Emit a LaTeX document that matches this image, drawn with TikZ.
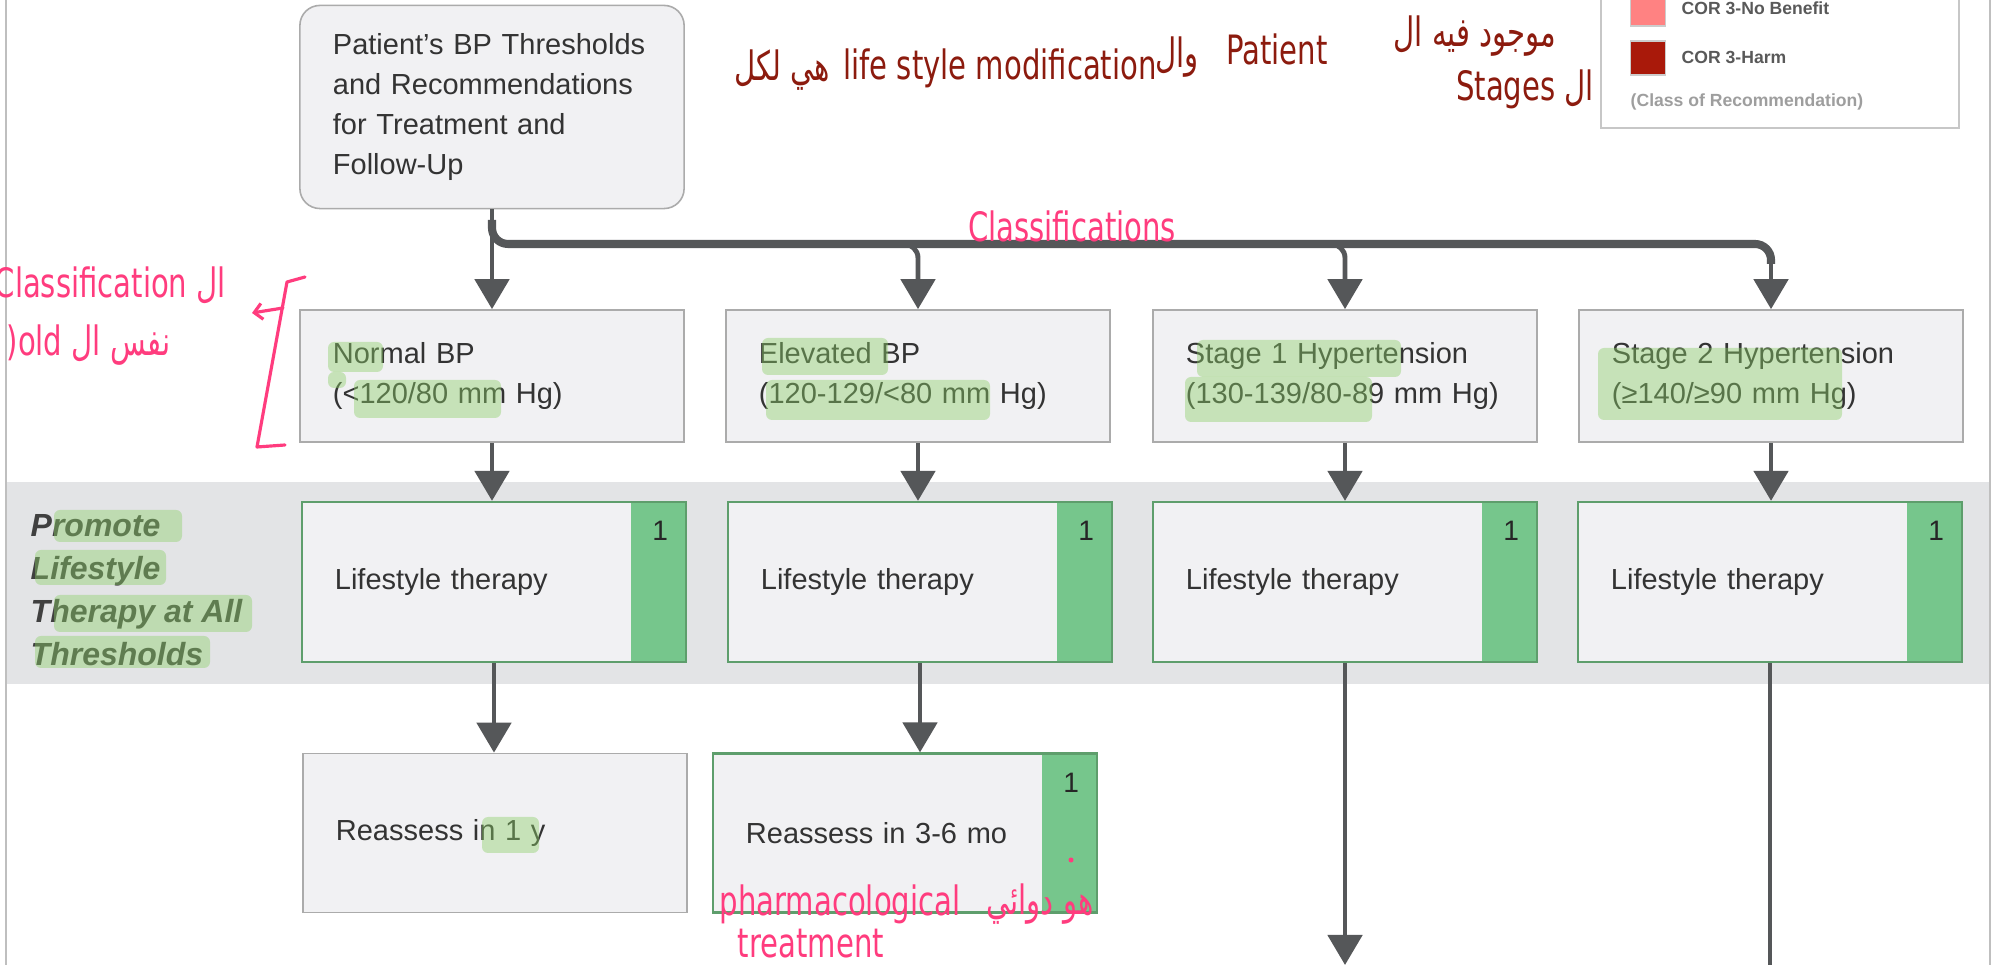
\documentclass[tikz,border=0pt]{standalone}
\usepackage{fontspec}
\setmainfont{Liberation Sans}
\newfontfamily\inkfont[FakeStretch=0.72]{DejaVu Sans}
\newfontfamily\inkarabic[Script=Arabic,FakeStretch=0.72]{DejaVu Sans}
\TeXXeTstate=1
\usetikzlibrary{arrows.meta,positioning}
\definecolor{boxfill}{HTML}{F1F1F3}
\definecolor{boxline}{HTML}{ABABAB}
\definecolor{bandgray}{HTML}{E3E4E6}
\definecolor{arrowgray}{HTML}{555759}
\definecolor{corgreen}{HTML}{76C68C}
\definecolor{greenline}{HTML}{5E9E6C}
\definecolor{hlgreen}{HTML}{8CCF68}
\definecolor{textgray}{HTML}{333333}
\definecolor{inkred}{HTML}{8C1B0E}
\definecolor{inkpink}{HTML}{FF3C7E}
\definecolor{cornobenefit}{HTML}{FF8282}
\definecolor{corharm}{HTML}{A9190A}
\colorlet{frameline}{black!25}

\begin{document}
\begin{tikzpicture}[x=0.01cm,y=-0.01cm,
        mainfont/.style={font=\fontsize{8.25}{11.4}\selectfont, text=textgray},
        stagebox/.style={mainfont, draw=boxline, line width=0.45pt, fill=boxfill,
            minimum width=3.84cm, minimum height=1.32cm, inner xsep=0.33cm,
            text width=3.18cm, align=left},
        topbox/.style={stagebox, rounded corners=0.2cm, minimum height=2.03cm},
        lsbox/.style={stagebox, draw=greenline, line width=0.6pt, minimum height=1.6cm,
            path picture={\fill[corgreen] ([xshift=-0.55cm]path picture bounding box.north east)
                rectangle (path picture bounding box.south east);}},
        cornum/.style={font=\fontsize{8}{9}\selectfont, text=black!85, inner sep=0pt},
        conn/.style={draw=arrowgray, line width=1.4pt,
            -{Triangle[width=0.34cm,length=0.3cm]}},
        line/.style={draw=arrowgray, line width=1.4pt},
        bus/.style={draw=arrowgray, line width=2.3pt},
        sidelabel/.style={font=\fontsize{9.1}{12.2}\selectfont\bfseries\itshape,
            text=black!75, align=left, inner sep=0pt},
        swatch/.style={draw=black!20, minimum width=0.35cm, minimum height=0.34cm, inner sep=0pt},
        legtext/.style={font=\fontsize{5}{6}\selectfont\bfseries, text=black!65, inner sep=0pt},
        legnote/.style={legtext, text=black!38},
        hl/.style={fill=hlgreen, opacity=0.42, rounded corners=0.06cm},
        inkdark/.style={font=\inkfont\fontsize{11.5}{13}\selectfont, text=inkred, inner sep=0pt},
        inkbright/.style={inkdark, text=inkpink},
        inkline/.style={draw=inkpink, line width=0.9pt, line cap=round, line join=round}]
        \useasboundingbox (0,0) rectangle (1998,965);
        \fill[white] (0,0) rectangle (1998,965);
        \draw[frameline, line width=0.8pt] (6,0) -- (6,965);
        \draw[frameline, line width=0.8pt] (1990,0) -- (1990,965);
        \fill[bandgray] (7,482) rectangle (1989,684);

        \node[draw=black!22, fill=white, minimum width=3.58cm, minimum height=1.68cm] (legend) at (1780,44) {};
        \node[swatch, fill=cornobenefit] (sw1) at (1648,9) {};
        \node[swatch, fill=corharm] (sw2) at (1648,58) {};
        \node[legtext, anchor=west] at (1681,8) {COR 3-No Benefit};
        \node[legtext, anchor=west] at (1681,57) {COR 3-Harm};
        \node[legnote, anchor=west] at (1630,102) {(Class of Recommendation)};

        \node[topbox] (thr) at (492,107) {Patient's BP Thresholds\\and Recommendations\\for Treatment and\\Follow-Up};

        \node[stagebox] (c1) at (492,376) {Normal BP\\(<120/80 mm Hg)};
        \node[stagebox] (c2) at (918,376) {Elevated BP\\(120-129/<80 mm Hg)};
        \node[stagebox] (c3) at (1345,376) {Stage 1 Hypertension\\(130-139/80-89 mm Hg)};
        \node[stagebox] (c4) at (1771,376) {Stage 2 Hypertension\\(≥140/≥90 mm Hg)};

        \coordinate (bar) at (0,244);
        \draw[conn] (thr.south) -- (c1.north);
        \draw[bus, rounded corners=0.16cm] (thr.south |- 0,220) |- (c4.north |- bar) -- ++(0,20);
        \foreach \i in {2,3}{
            \draw[conn, rounded corners=0.14cm] (c\i.north |- bar) ++(-18,0) -| (c\i.north);
        }
        \draw[conn] (c4.north |- bar) ++(0,18) -- (c4.north);

        \node[sidelabel, anchor=west] (side) at (30,590) {Promote\\Lifestyle\\Therapy at All\\Thresholds};

        \foreach \i/\x in {1/494,2/920,3/1345,4/1770}{
            \node[lsbox] (ls\i) at (\x,582) {Lifestyle therapy};
            \node[cornum] at ([xshift=-0.27cm,yshift=-0.3cm]ls\i.north east) {1};
            \draw[conn] (c\i.south) -- (c\i.south |- ls\i.north);
        }

        \node[stagebox, minimum height=1.59cm] (ra1) at (495,833) {Reassess in 1 y};
        \node[lsbox, minimum height=1.59cm] (ra2) at (905,833) {Reassess in 3-6 mo};
        \node[cornum] at ([xshift=-0.27cm,yshift=-0.3cm]ra2.north east) {1};
        \draw[conn] (ls1.south) -- (ls1.south |- ra1.north);
        \draw[conn] (ls2.south) -- (ls2.south |- ra2.north);
        \coordinate (foot3) at (1347,965);
        \coordinate (foot4) at (1775,970);
        \draw[conn] (ls3.south) -- (ls3.south |- foot3);
        \draw[line] (ls4.south) -- (ls4.south |- foot4);

        \fill[hl] (328,342) rectangle (383,372);
        \fill[hl] (328,372) rectangle (346,388);
        \fill[hl] (354,380) rectangle (501,418);
        \fill[hl] (762,338) rectangle (888,375);
        \fill[hl] (766,380) rectangle (990,420);
        \fill[hl] (1197,340) rectangle (1401,377);
        \fill[hl] (1185,377) rectangle (1372,422);
        \fill[hl] (1598,348) rectangle (1842,420);
        \fill[hl] (54,510) rectangle (182,542);
        \fill[hl] (35,550) rectangle (166,585);
        \fill[hl] (54,595) rectangle (252,632);
        \fill[hl] (35,636) rectangle (210,668);
        \fill[hl] (482,817) rectangle (539,853);

        \node[inkdark] (n1) at (782,70) {\inkarabic\beginR هي لكل\endR};
        \node[inkdark] (n2) at (1000,68) {life style modification};
        \node[inkdark] (n3) at (1177,57) {\inkarabic\beginR وال\endR};
        \node[inkdark] (n4) at (1277,49) {Patient};
        \node[inkdark] (n5) at (1475,36) {\inkarabic\beginR موجود فيه ال\endR};
        \node[inkdark] (n6) at (1525,89) {Stages \inkarabic\beginR ال\endR};

        \node[inkbright] (p1) at (1072,226) {Classifications};
        \node[inkbright, anchor=west] (p2) at (-6,285) {Classification \inkarabic\beginR ال\endR};
        \node[inkbright, anchor=west] (p3) at (6,345) {)old \inkarabic\beginR نفس ال\endR};
        \draw[inkline] (305,277) -- (287,282) -- (257,447) -- (285,445);
        \coordinate (brk) at (283,308);
        \coordinate (brktip) at (252,313);
        \draw[inkline, -{Straight Barb[length=0.08cm,width=0.16cm]}] (brk) -- (brktip);
        \node[inkbright] (p4) at (840,904) {pharmacological};
        \node[inkbright] (p5) at (811,944) {treatment};
        \node[inkbright] (p6) at (1040,904) {\inkarabic\beginR هو دوائي\endR};
        \fill[inkpink] (1071,860) circle (0.025cm);
\end{tikzpicture}
\end{document}
